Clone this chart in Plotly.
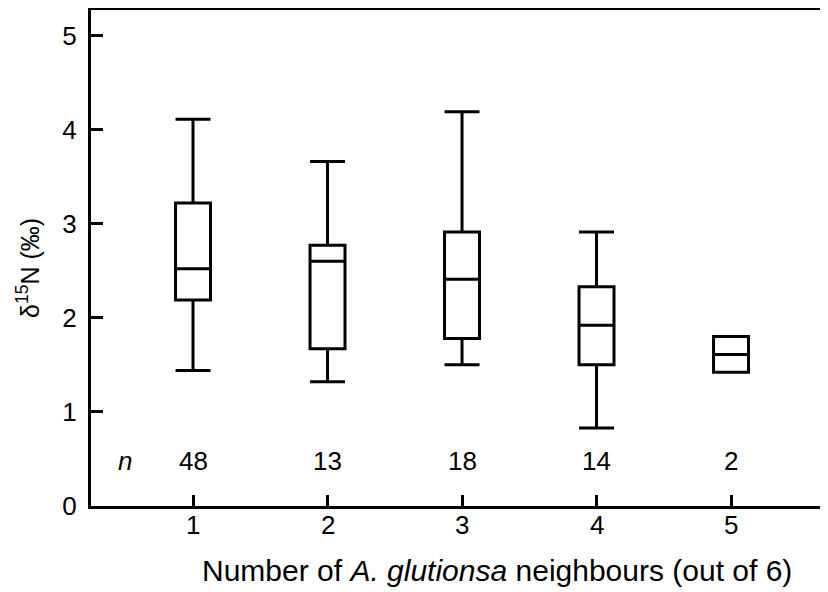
import plotly.graph_objects as go

categories = [1, 2, 3, 4, 5]
q1 = [2.19, 1.67, 1.78, 1.50, 1.42]
median = [2.52, 2.60, 2.41, 1.92, 1.61]
q3 = [3.22, 2.77, 2.91, 2.33, 1.80]
lower = [1.44, 1.32, 1.50, 0.83, 1.42]
upper = [4.11, 3.66, 4.19, 2.91, 1.80]
n_labels = ["48", "13", "18", "14", "2"]
x_tick_labels = ["1", "2", "3", "4", "5"]
y_ticks = [0, 1, 2, 3, 4, 5]

FONT = "Liberation Sans, Arial, sans-serif"
TICK = 26
XTITLE = 30
YTITLE = 25

fig = go.Figure()
fig.add_trace(go.Box(
    x=categories, q1=q1, median=median, q3=q3,
    lowerfence=lower, upperfence=upper,
    width=0.26, whiskerwidth=1,
    fillcolor="white",
    line=dict(color="black", width=3),
    boxpoints=False, showlegend=False, hoverinfo="skip",
))

annotations = []
for c, t in zip(categories, n_labels):
    annotations.append(dict(x=c, y=0.48, xref="x", yref="y", text=t,
                            showarrow=False, font=dict(size=TICK, color="black", family=FONT)))
for c, t in zip(categories, x_tick_labels):
    annotations.append(dict(x=c, y=0, xref="x", yref="paper", yshift=-19, yanchor="middle",
                            text=t, showarrow=False,
                            font=dict(size=TICK, color="black", family=FONT)))
annotations.append(dict(x=0.494, y=0.48, xref="x", yref="y", text="<i>n</i>",
                        showarrow=False, font=dict(size=TICK, color="black", family=FONT)))
annotations.append(dict(x=(497 - 91) / 737, y=0, xref="paper", yref="paper",
                        yshift=-64, yanchor="middle", xanchor="center",
                        text="Number of <i>A. glutionsa</i> neighbours (out of 6)",
                        showarrow=False, font=dict(size=XTITLE, color="black", family=FONT)))
annotations.append(dict(x=0, y=(506 - 268) / 496, xref="paper", yref="paper",
                        xshift=-63, xanchor="center", yanchor="middle", textangle=-90,
                        text="δ<sup>15</sup>N (‰)",
                        showarrow=False, font=dict(size=YTITLE, color="black", family=FONT)))

fig.update_layout(
    width=820, height=584,
    margin=dict(l=83, r=0, t=2, b=86),
    paper_bgcolor="white", plot_bgcolor="white",
    font=dict(family=FONT, size=TICK, color="black"),
    annotations=annotations,
    xaxis=dict(range=[0.2416, 5.721], tickvals=categories, showticklabels=False,
               showgrid=False, zeroline=False, showline=True, linecolor="black", linewidth=3,
               mirror=True, ticks="inside", ticklen=11, tickwidth=3, tickcolor="black"),
    yaxis=dict(range=[0, 5.27], tickvals=y_ticks, showgrid=False, zeroline=False,
               showline=True, linecolor="black", linewidth=3,
               ticks="inside", ticklen=12, tickwidth=3, tickcolor="black",
               ticklabelstandoff=6, tickfont=dict(size=TICK, family=FONT, color="black")),
)

fig.write_html("out.html")
